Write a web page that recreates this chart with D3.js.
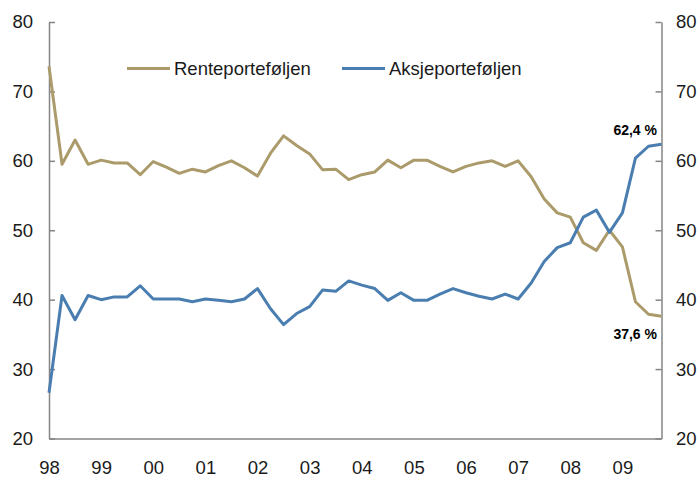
<!DOCTYPE html>
<html lang="no">
<head>
<meta charset="utf-8">
<title>Rente- og aksjeporteføljen</title>
<script src="https://d3js.org/d3.v7.min.js"></script>
<style>
  body, html { margin: 0; padding: 0; background: #fff; }
  svg { display: block; }
  .axis text { font-family: "Liberation Sans", Arial, sans-serif; font-size: 18.5px; fill: #1a1a1a; }
  .axis path, .axis line { stroke: #858585; stroke-width: 1.5px; }
  .legend text { font-family: "Liberation Sans", Arial, sans-serif; font-size: 18.5px; fill: #1a1a1a; }
  .note { font-family: "Liberation Sans", Arial, sans-serif; font-size: 14px; font-weight: bold; fill: #000; }
</style>
</head>
<body>
<svg id="chart" width="700" height="477"></svg>
<script>
// quarterly, 1998 Q1 .. 2009 Q4
var quarters = [];
for (var yr = 1998; yr <= 2009; yr++) for (var q = 1; q <= 4; q++) quarters.push(yr + "Q" + q);

var yearLabels = ["98", "99", "00", "01", "02", "03", "04", "05", "06", "07", "08", "09"];

var rente = [73.6, 59.5, 63.0, 59.5, 60.1, 59.7, 59.7, 58.0, 59.9, 59.1, 58.2, 58.8,
             58.4, 59.3, 60.0, 59.0, 57.8, 61.1, 63.6, 62.2, 61.0, 58.7, 58.8, 57.3,
             58.0, 58.4, 60.1, 59.0, 60.1, 60.1, 59.2, 58.4, 59.2, 59.7, 60.0, 59.2,
             60.0, 57.7, 54.5, 52.5, 51.9, 48.2, 47.1, 50.0, 47.6, 39.7, 37.9, 37.6];

var aksje = [26.6, 40.6, 37.1, 40.6, 40.0, 40.4, 40.4, 42.0, 40.1, 40.1, 40.1, 39.7,
             40.1, 39.9, 39.7, 40.1, 41.6, 38.7, 36.4, 38.0, 39.0, 41.4, 41.2, 42.7,
             42.1, 41.6, 39.9, 41.0, 39.9, 39.9, 40.8, 41.6, 41.0, 40.5, 40.1, 40.8,
             40.1, 42.4, 45.5, 47.5, 48.2, 51.9, 52.9, 49.7, 52.5, 60.4, 62.1, 62.4];

var yTicks = [20, 30, 40, 50, 60, 70, 80];

var seriesNames = ["Renteporteføljen", "Aksjeporteføljen"];
var colors = ["#ab9b6b", "#4a7eb0"];

var plotLeft = 49, plotRight = 661.5, plotTop = 22, plotBottom = 438.5;

var svg = d3.select("#chart");

var x = d3.scaleLinear().domain([0, quarters.length - 1]).range([plotLeft, plotRight]);
var y = d3.scaleLinear().domain([20, 80]).range([plotBottom, plotTop]);

// bottom axis: line + year labels at each Q1
var xAxis = d3.axisBottom(x)
    .tickValues(yearLabels.map(function(d, i) { return i * 4; }))
    .tickFormat(function(d) { return yearLabels[d / 4]; })
    .tickSize(0)
    .tickPadding(22);
svg.append("g").attr("class", "axis")
    .attr("transform", "translate(0," + plotBottom + ")")
    .call(xAxis);

svg.append("g").attr("class", "axis")
    .attr("transform", "translate(" + plotLeft + ",0)")
    .call(d3.axisLeft(y).tickValues(yTicks).tickSize(-6).tickSizeOuter(0).tickPadding(16));

svg.append("g").attr("class", "axis")
    .attr("transform", "translate(" + plotRight + ",0)")
    .call(d3.axisRight(y).tickValues(yTicks).tickSize(-6).tickSizeOuter(0).tickPadding(14.5));

var line = d3.line()
    .x(function(d, i) { return x(i); })
    .y(function(d) { return y(d); });

[rente, aksje].forEach(function(s, k) {
  svg.append("path")
      .datum(s)
      .attr("d", line)
      .attr("fill", "none")
      .attr("stroke", colors[k])
      .attr("stroke-width", 3)
      .attr("stroke-linejoin", "round");
});

// legend
var legendX = [127, 342];
var legend = svg.append("g").attr("class", "legend");
seriesNames.forEach(function(name, k) {
  legend.append("line")
      .attr("x1", legendX[k]).attr("x2", legendX[k] + 43)
      .attr("y1", 68.5).attr("y2", 68.5)
      .attr("stroke", colors[k]).attr("stroke-width", 3);
  legend.append("text")
      .attr("x", legendX[k] + 47).attr("y", 75)
      .text(name);
});

// end labels
var last = quarters.length - 1;
svg.append("text").attr("class", "note")
    .attr("x", 657).attr("y", y(aksje[last]) - 9)
    .attr("text-anchor", "end")
    .text(d3.format(".1f")(aksje[last]).replace(".", ",") + " %");
svg.append("text").attr("class", "note")
    .attr("x", 657).attr("y", y(rente[last]) + 23)
    .attr("text-anchor", "end")
    .text(d3.format(".1f")(rente[last]).replace(".", ",") + " %");
</script>
</body>
</html>
